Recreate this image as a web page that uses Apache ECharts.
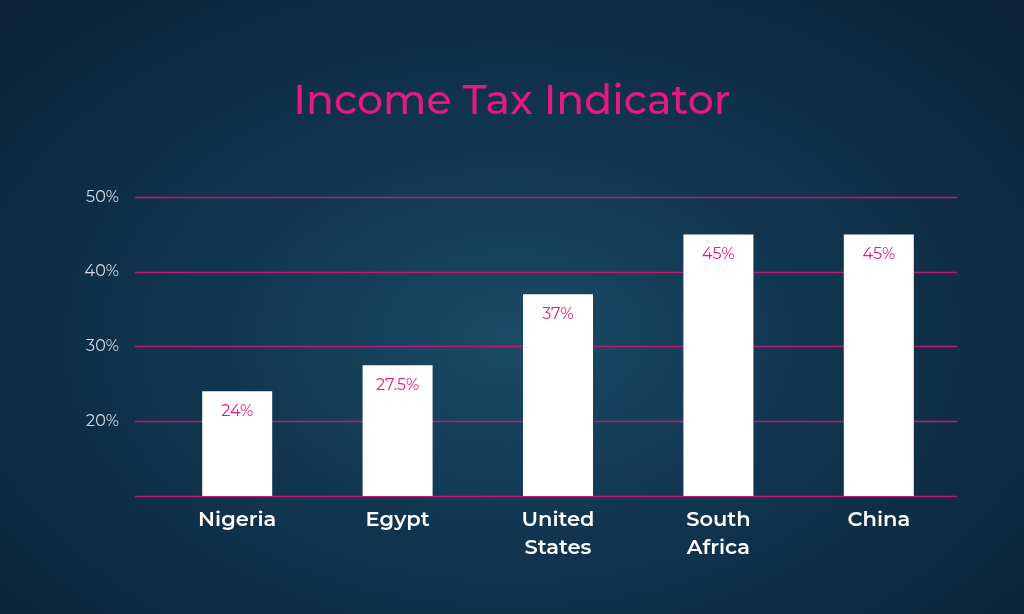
<!DOCTYPE html>
<html><head><meta charset="utf-8">
<script src="https://cdn.jsdelivr.net/npm/echarts@6/dist/echarts.min.js"></script>
<style>html,body{margin:0;padding:0}#c{width:1024px;height:614px;background:radial-gradient(ellipse at 50% 55%,#1a4b66 0%,#123650 40%,#0a2236 100%)}</style>
</head><body><div id="c"></div>
<script>
const categories=['Nigeria','Egypt','United\nStates','South\nAfrica','China'];
const values=[24,27.5,37,45,45];
const labels=['24%','27.5%','37%','45%','45%'];
const yTicks=[20,30,40,50];
const pink='#e5197f';
const font='Montserrat, "Noto Sans", sans-serif';
const chart=echarts.init(document.getElementById('c'));
chart.setOption({
  title:{text:'Income Tax Indicator',left:'center',top:76,textStyle:{color:pink,fontSize:41,fontWeight:500,fontFamily:font}},
  grid:[{left:135,right:67,top:197,bottom:118},{left:157,right:65,top:197,bottom:118}],
  xAxis:[
    {gridIndex:0,type:'value',show:false,min:0,max:1},
    {gridIndex:1,type:'category',data:categories,axisLine:{show:false},axisTick:{show:false},
     axisLabel:{color:'#fff',fontSize:21,fontWeight:600,fontFamily:font,lineHeight:28,margin:10,verticalAlign:'top'}}
  ],
  yAxis:[
    {gridIndex:0,type:'value',min:10,max:50,interval:10,axisLine:{show:false},axisTick:{show:false},
     splitLine:{lineStyle:{color:'#c4186f',width:1.4}},
     axisLabel:{color:'#d4dae0',fontSize:16,fontFamily:font,margin:16,
       formatter:v=>yTicks.includes(v)?v+'%':''}},
    {gridIndex:1,type:'value',min:10,max:50,show:false}
  ],
  series:[{type:'bar',xAxisIndex:1,yAxisIndex:1,data:values,barWidth:70,
    itemStyle:{color:'#ffffff'},
    label:{show:true,position:'insideTop',distance:12,color:pink,fontSize:16,fontFamily:font,
      formatter:p=>labels[p.dataIndex]}}]
});
</script></body></html>
